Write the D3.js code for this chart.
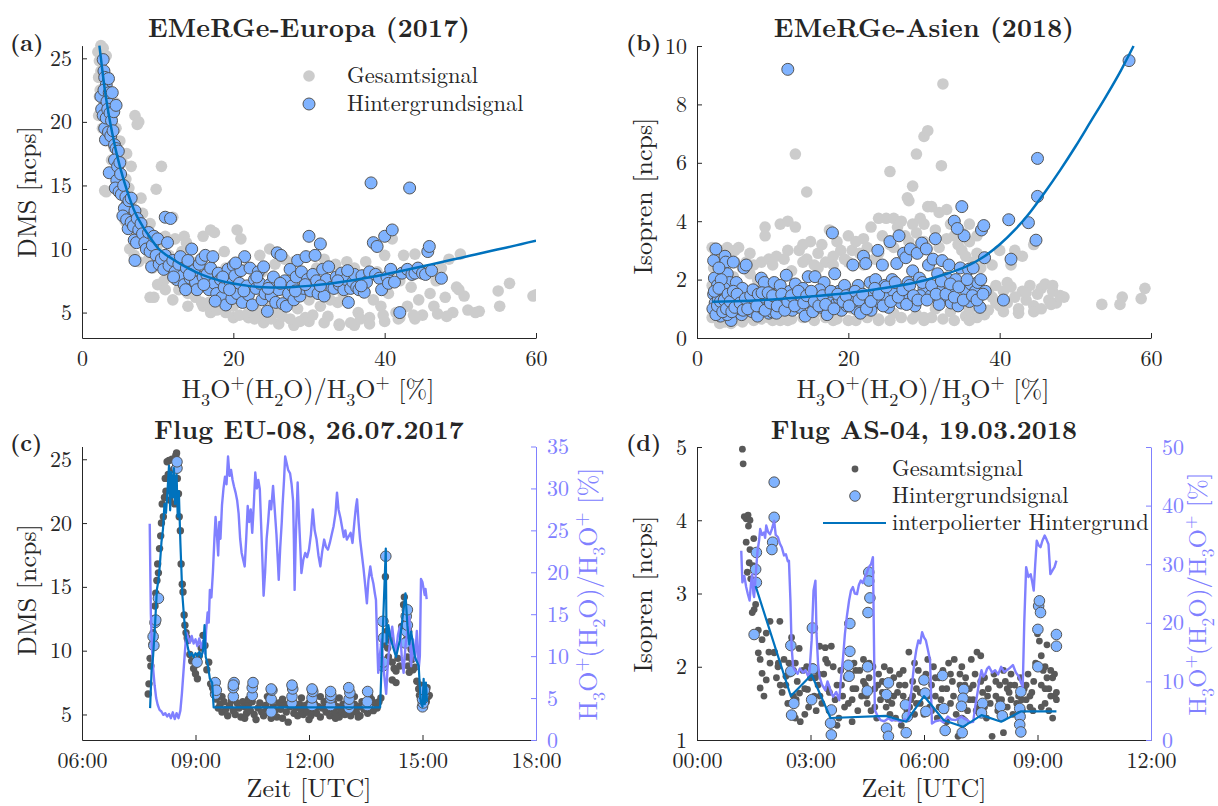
<!DOCTYPE html>
<html>
<head>
<meta charset="utf-8">
<script src="https://cdn.jsdelivr.net/npm/d3@7"></script>
<style>
  body { margin: 0; background: #fff; }
  text { font-family: "Latin Modern Roman", "CMU Serif", "Liberation Serif", serif; fill: #262626; white-space: pre; }
</style>
</head>
<body>
<script>
// ---------- Daten ----------
// (a) EMeRGe-Europa: [H3O+(H2O)/H3O+ %, DMS ncps]
const europeTotal = [
  [2.1,25.5],[2.3,24.8],[2.2,23.5],[2.5,26],[2.8,25.8],[2.4,22.5],[2.6,21],[2.2,20.5],[2.9,23.8],[2.7,19.5],[3.0,22],[2.5,24],[3.2,25.2],[2.3,22],[2.9,21.5],
  [3.3,20.5],[3.5,23.5],[3.8,21.8],[3.2,18.5],[3.6,19],[4.0,20.5],[4.2,18],[4.5,19.5],[4.8,17.5],[3.0,14.6],[3.2,14.5],[4.5,16],[4.9,15.5],[3.9,17],[4.4,21.5],[5.0,18.5],
  [5.3,16.8],[5.5,14.5],[5.8,15.5],[6.0,13],[6.2,14.8],[6.5,16.5],[7.0,20.5],[7.5,20],[7.3,19.8],[5.7,12.2],[6.8,12.5],[7.2,11.5],[7.8,14],[6.3,10],[6.9,9.5],[8.0,12.8],[7.6,11],[5.9,17.5],[6.6,13.8],
  [8.3,11.8],[8.6,10.5],[9.0,12],[9.3,8.5],[9.5,6.2],[9.8,14.7],[10.2,9],[10.5,16.5],[11.0,11],[11.3,8],[11.8,7.8],[12.0,12.5],[8.8,9.2],[9.9,10.2],[10.8,7.5],[11.5,9.5],[12.3,10.8],[12.5,8.5],
  [7.5,9],[9,6.2],[10,7.2],[11,6.8],[12,6],[14,5.5],[16,5.5],[17,5],[19,5],[20,4.6],[22,4.6],[24,4.2],[26,4.1],[28,4.0],[30,4.3],[32,4.2],[34,4.1],[36,4.0],[38,4.1],[40,4.3],[42,4.6],[44,4.5],
  [13,7.5],[13.5,11],[14,6.5],[14.5,9],[15,6.2],[15.5,8],[13.8,10.5],[14.8,7],[15.8,5.8],[12.8,6.8],[13.2,9.8],[16,11],
  [16.5,7],[17,11.5],[17.5,11.3],[18,6],[18.5,5.5],[19,8.5],[19.5,7],[20,5.5],[20.5,11.5],[21,10.8],[21.5,6],[16.8,5.8],[18.8,9.8],[19.8,6.5],[20.8,4.8],[21.8,8.5],[17.8,5.2],[22,5],
  [22.5,7.3],[23,5.2],[23.5,9.5],[24,4.8],[24.5,6],[25,4.5],[25.5,8.8],[26,5],[26.5,4.7],[27,6.5],[27.5,4.5],[28,9],[28.5,5.3],[29,7.5],[29.5,4.6],[30,6],[22.8,4.5],[24.8,10],[26.8,9.2],[28.8,4.3],[23.8,8.2],[27.8,7.8],
  [30.5,4.8],[31,8.5],[31.5,5.5],[32,9.2],[32.5,4.7],[33,7],[33.5,8.8],[34,4],[34.5,6.5],[35,9],[35.5,4.2],[36,8.5],[36.5,5],[37,7.5],[37.5,9],[38,4.6],[38.5,6],[39,8.2],[39.5,5.5],[40,9.5],[30.8,7],[33.8,5.8],[36.8,4.5],[39.8,4.8],[34.8,8],[32.8,6],
  [40.5,6.5],[41,10.8],[41.5,5],[42,7.5],[42.5,9.5],[43,5.5],[43.5,7],[44,9.6],[44.5,6],[45,4.8],[45.5,8],[46,6.5],[46.5,5.5],[47,4.9],[47.5,8.5],[48,6.2],[48.5,9.2],[49,5],[49.5,7],[50,9.6],[43.8,4.8],[46.8,7.5],[41.8,4.5],[49.8,6.8],[48.2,4.7],
  [50.5,6.3],[51,5.2],[52,5],[52.5,5.1],[55,6.7],[55.2,5.5],[56.5,7.3],[59.6,6.3],[60,6.4]
];
const europeBg = [
  [2.8,24.9],[2.9,24],[3.0,23.5],[3.2,22.9],[3.5,23.4],[2.5,22],[2.6,21],[2.9,22.5],[3.3,21.6],[3.6,22.3],[4.0,22.3],[2.8,20.5],[3.0,19.5],[3.2,20.3],[3.4,21],[3.7,20.7],[3.1,18.6],[3.5,19.2],[3.9,20.1],[4.2,20.8],[4.5,21.3],[3.8,18.9],[4.1,19.3],[3.6,16],
  [4.3,18.2],[4.5,17.9],[4.8,17.7],[4.3,17],[4.7,16.5],[5.0,16.8],[4.6,15.4],[5.1,15.9],[4.4,14.8],[4.9,14.5],[5.2,14.3],[5.5,15],[5.8,14.1],[6.0,13.5],[5.6,13.2],[5.4,12.6],[5.9,12.3],[6.2,13.8],[6.5,14],[6.1,11.6],
  [6.5,12.1],[6.8,11.8],[7.0,13],[7.3,12.4],[7.5,11.5],[7.7,10.9],[6.9,10.7],[7.2,10.5],[7.8,12],[8.0,11.2],[8.3,10.5],[8.5,10],[8.8,11.3],[9.0,9.8],[9.3,10.3],[9.5,11],[7.0,9.1],[9.2,8.6],[9.8,9.5],[10,10.8],
  [10.2,8.8],[10.5,9.2],[10.8,8.4],[11,9.5],[11.3,10.5],[11.5,8.7],[11,12.5],[11.7,12.4],[12,9.1],[12.3,8.2],[12.5,7.6],[12.8,8.8],[13,9.4],[13.3,7.9],[13.5,7.2],[13.8,8.5],[14,9.1],[14.3,7.7],[14.5,10],[14.8,8.3],[15,7.4],[15.2,6.8],[15.5,8.8],[13.7,6.8],[12.1,7.8],
  [15.8,9.2],[16,7.8],[16.3,9.5],[16.5,8],[16.8,6.8],[17,8.5],[17.3,9.4],[17.5,7.3],[17.8,6.5],[18,8.1],[18.3,7.6],[18.5,6.2],[18.8,7],[19,5.6],[19.3,8.4],[19.6,7.4],[19.8,6.1],[20,8.7],[20.2,7.9],[20.5,6.5],[20.8,7.3],[21,8.3],[21.2,5.8],[21.5,9.4],[21.8,7.1],[22,6.4],[22.2,8.5],[20.3,8.9],[17.6,5.9],
  [22.5,5.6],[22.8,7.6],[23,6.9],[23.3,8.2],[23.5,7.3],[23.8,6],[24,8.6],[24.2,6.5],[24.5,5.1],[24.8,7.2],[25,6.3],[25.3,7.8],[25.6,5.8],[25.8,9.7],[26,6.8],[26.3,9.5],[26.5,5.7],[26.8,7.5],[27,5.5],[27.3,6.5],[27.5,8.4],[27.8,7.1],[28,6],[28.3,7.8],[28.5,9.1],[28.8,6.3],[29,8.2],[29.3,6.9],[29.6,9.4],[29.8,7.6],[30,11],[30.2,6.7],[30.5,8],
  [30.8,9.5],[31,7.5],[31.2,6.5],[31.5,10.4],[31.8,8.4],[32,6.3],[32.3,7.6],[32.6,8.6],[33,7],[33.3,6.9],[33.6,7.8],[34,7.2],[34.3,8.1],[34.6,6.8],[34.9,7.6],[35.2,5.8],[35.5,6.9],[35.8,7.4],[36,8],[36.3,7],[36.6,6.8],[37,7.9],[37.3,6.6],[37.6,7.4],[38,8.2],[38.2,15.2],[38.5,10.5],[38.8,8],[39,10.2],[39.3,7.7],[39.6,6.8],[40,11],[40.3,7.8],
  [40.5,7.3],[40.8,8.4],[41,11.5],[41.3,7.4],[42,5],[42.3,8.1],[43,8.4],[43.3,14.8],[43.6,8],[44,8.1],[44.4,8.5],[45,8.1],[45.4,8],[45.7,9.8],[45.9,10.2],[46.2,8.3],[47.5,7.7],
  [14.2,8.0],[16.1,7.2],[18.6,7.8],[19.5,6.8],[21.4,6.7],[23.1,7.8],[24.6,6.9],[26.2,7.3],[28.2,6.7],[29.5,7.2],[31.5,7.1],[33.8,7.5],[36.9,7.1],[35.1,8.3]
];
const europeFit = [
  [2.3,26],[2.6,24.5],[3,22.6],[3.5,20.7],[4,19.1],[4.5,17.7],[5,16.5],[6,14.5],[7,12.9],[8,11.8],[9,10.9],[10,10.1],[12,9.2],[14,8.5],[16,7.95],[18,7.55],
  [20,7.28],[22,7.1],[24,7.0],[26,6.98],[28,7.02],[30,7.1],[32,7.22],[34,7.38],[36,7.57],[38,7.78],[40,8.0],[42,8.25],[44,8.5],[46,8.77],[48,9.04],[50,9.3],[52,9.57],[54,9.84],[56,10.1],[58,10.38],[60,10.66]
];

// (b) EMeRGe-Asien: [H3O+(H2O)/H3O+ %, Isopren ncps]
const asiaTotal = [
  [2,3.1],[2.5,2.9],[3,3.0],[3.5,2.8],[4,3.1],[4.5,2.7],[5,2.6],[2.2,2.4],[2.8,2.2],[3.3,2.5],[3.8,2.3],[4.3,2.0],[4.8,2.1],[2,1.8],[2.5,1.5],[3,1.2],[3.5,1.0],[4,0.7],[4.5,0.5],[5,0.6],[2.3,0.9],[3.7,0.55],[2,0.7],
  [5.5,3.1],[6,2.4],[6.5,2.6],[7,2.2],[7.5,2.5],[8,2.0],[8.5,2.6],[9,3.8],[9,3.5],[9.5,2.7],[10,2.5],[10.5,2.8],[5.5,0.9],[6.5,0.7],[7.5,0.6],[8.5,0.65],[9.5,0.7],[10,0.6],[6,1.3],[7,1.1],[8,1.5],[9,1.2],[10,1.8],
  [11,3.9],[11.5,2.7],[12,4.0],[12.5,2.3],[13,3.8],[13,6.3],[13.5,3],[14,3.2],[14.5,5.0],[14.5,2.7],[15,3.3],[15.5,2.5],[16,2.9],[16.5,3.2],[17,2.6],[17.5,3.7],[18,2.8],[18.5,3.3],[19,3.0],[19.5,2.7],[20,3.5],
  [11,0.6],[12.5,0.65],[14,0.7],[15.5,0.6],[17,0.7],[18.5,0.65],[20,0.6],[11.5,1.1],[13.5,1.0],[16,0.9],[19,0.9],
  [20.5,3.0],[21,3.3],[21.5,2.9],[22,3.4],[22.5,3.1],[23,3.8],[23.5,2.7],[24,4.1],[24.5,3.5],[25,4.1],[25.5,5.7],[25.5,3.2],[26,4.1],[26.5,3.8],[27,4.0],[27.5,3.5],[27.8,4.8],[28,4.7],[28.5,5.2],[28.5,3.9],[29,6.3],[29,3.6],[29.5,4.1],[30,6.9],[30.5,7.1],[30,3.9],
  [21,0.6],[22.5,0.7],[24,0.65],[25.5,0.6],[27,0.7],[28.5,0.65],[30,0.7],[20.5,1.0],[23,0.9],[26,0.85],[29,0.8],
  [30.5,4.5],[31,4.5],[31.5,3.7],[32,4.3],[32.3,5.9],[32.5,8.7],[33,4.4],[33.5,3.9],[34,3.5],[34.5,3.2],[35,3.0],[35.5,2.8],[36,3.3],[36.5,2.6],[37,2.9],[37.5,2.4],[38,2.7],
  [31,0.7],[32.5,0.65],[34,0.6],[35.5,0.75],[37,0.7],[38,0.8],[31.5,1.0],[33.5,0.9],[36,0.95],
  [38.5,1.6],[39,1.4],[39.5,1.8],[40,1.1],[40.5,1.6],[41,1.2],[41.5,1.75],[42,1.4],[42.5,1.0],[43,1.6],[43.5,1.3],[44,1.8],[44.5,1.1],[45,1.5],[45.5,1.7],[46,1.85],[46.5,1.3],[47,1.6],[47.5,1.2],[48,1.45],[48.5,1.4],[46.8,1.15],
  [41.5,2.5],[42,3.0],[43,2.8],[44.5,3.2],[40,3.0],[39,2.5],[38.5,0.95],[40.5,0.9],[42.5,0.85],[44.5,0.9],[45.5,1.0],[39.5,1.2],[43.5,1.55],[41,1.9],[47,1.8],
  [5,3.0],[7,2.9],[12,3.0],[14,2.6],[16,2.4],[18,2.5],[20,2.6],[22,2.5],[24,2.9],[26,3.1],[28,3.3],[30,3.3],[32,3.1],[33,3.4],[35,3.6],[36,3.9],[37,3.5],
  [3,0.5],[6,0.55],[12,0.6],[18,0.6],[24,0.6],[30,0.6],[36,0.6],
  [53.5,1.15],[55.9,1.15],[56.2,1.4],[58.7,1.35],[59.2,1.7]
];
const asiaBg = [
  [2.2,2.65],[2.5,3.05],[2.3,2.05],[2.7,1.8],[2.2,1.5],[2.4,1.2],[2.6,0.9],[3,1.4],[3.3,1.1],[3.1,0.75],[3.5,2.3],[3.7,2.8],[3.8,2.6],[4.0,2.2],[4.3,1.9],[4.5,1.5],[4.2,1.0],[4.5,0.6],[4.0,0.8],[3.6,1.7],[2.8,1.3],[4.8,2.6],[4.9,1.2],[3.2,2.0],[2.9,2.4],
  [5.2,1.9],[5.5,1.35],[5.9,0.8],[6.2,2.4],[6.5,2.5],[6.8,1.5],[7,1.1],[7.3,0.9],[7.7,1.6],[8,0.75],[8.3,1.3],[8.5,2.05],[8.9,1.9],[9.2,1.2],[9.5,0.85],[9.8,1.5],[10.2,1.9],[10.3,1.1],[5.6,1.0],[6.0,1.7],[7.5,1.3],[8.7,1.0],[9.9,0.9],
  [10.8,1.4],[11,1.8],[11.5,1.2],[11.8,2.15],[12,9.2],[12.3,1.6],[12.6,0.95],[13,1.85],[13.3,1.3],[13.6,1.05],[14,1.7],[14.3,0.75],[14.7,2.1],[15,1.2],[15.3,0.9],[15.6,2.1],[16,1.4],[16.4,1.05],[16.8,1.9],[17.2,0.8],[17.5,1.3],[17.9,3.6],[18.2,2.2],[18.5,1.2],[18.8,1.6],[19.1,0.95],[19.5,1.8],[19.8,1.1],[10.5,0.85],[13.8,1.4],[16.2,1.65],[18.8,1.35],
  [20.3,1.5],[20.6,2.5],[21,1.0],[21.3,1.8],[21.6,0.85],[22,2.8],[22.3,2.55],[22.6,1.2],[22.9,1.9],[23.2,1.5],[23.6,2.0],[23.9,3.0],[24.2,1.2],[24.5,2.5],[24.8,1.8],[25.1,1.4],[25.5,3.3],[25.8,2.0],[26,1.6],[26.4,2.55],[26.7,3.5],[27,1.2],[27.3,2.9],[27.6,2.75],[27.9,1.9],[28.2,3.05],[28.5,2.3],[28.8,1.1],[29.1,2.9],[29.4,2.05],[29.7,3.25],[30,1.7],[30.3,3.05],[20.7,1.25],[23,0.95],[25.3,1.05],[27.5,1.5],[29.5,1.45],
  [30.6,2.5],[30.9,1.45],[31.2,2.7],[31.5,3.4],[31.8,2.2],[32.1,1.6],[32.4,2.65],[32.7,1.35],[33,2.05],[33.3,2.5],[33.6,1.2],[33.9,1.7],[34.2,2.0],[34.5,1.1],[34.8,2.4],[35,4.5],[35.3,3.5],[35.6,1.6],[35.9,2.35],[36.2,1.85],[36.5,2.4],[36.8,1.6],[37.1,1.9],[37.4,1.05],[37.6,3.7],[37.9,3.85],[38,2.75],[38.1,1.6],[34,4.0],[34.4,3.75],[32,1.15],[36,1.25],
  [2.1,1.0],[2.3,1.6],[2.5,0.8],[2.7,1.1],[2.9,1.7],[3.1,1.25],[3.4,0.9],[3.6,1.3],[3.9,1.0],[4.1,1.5],[4.4,1.25],[4.6,0.9],[4.8,1.6],[5.0,1.05],[5.3,1.5],[5.7,1.2],[6.1,0.95],[6.4,1.35],[6.7,1.0],[7.1,1.45],[7.4,1.65],[7.9,1.1],[8.1,1.5],[8.6,1.55],[9.0,0.95],[9.4,1.55],[9.7,1.2],[10.0,1.45],
  [10.6,1.1],[11.2,1.5],[11.6,0.95],[12.0,1.25],[12.5,1.45],[12.9,1.1],[13.4,1.6],[14.1,1.2],[14.5,1.45],[15.1,1.6],[15.5,1.25],[16.1,1.1],[16.6,1.45],[17.0,1.15],[17.7,1.6],[18.1,1.0],[18.6,1.5],[19.3,1.25],[19.7,1.45],
  [20.1,1.1],[20.9,1.6],[21.4,1.3],[21.9,1.5],[22.4,1.0],[23.0,1.25],[23.5,1.7],[24.0,1.5],[24.6,1.1],[25.0,1.75],[25.6,1.25],[26.2,1.9],[26.6,1.4],[27.2,1.65],[27.7,1.15],[28.1,1.8],[28.6,1.45],[29.2,1.3],[29.8,1.9],
  [30.4,1.3],[31.0,1.8],[31.6,1.5],[32.3,1.95],[32.9,1.5],[33.5,1.85],[34.0,1.4],[34.6,1.75],[35.2,1.3],[35.7,2.0],[36.4,1.45],[37.0,1.3],[37.5,2.0],[37.8,1.5],
  [40.5,1.3],[41.2,4.05],[41.5,2.7],[43.8,3.95],[44.8,3.35],[45,4.85],[45,6.15],[57.1,9.5]
];
const asiaFit = [
  [2,1.24],[5,1.26],[10,1.32],[15,1.42],[20,1.54],[25,1.72],[30,1.97],[33,2.2],[36,2.5],[38,2.8],[40,3.2],[42,3.7],[44,4.3],[46,5.0],[48,5.75],[50,6.55],[52,7.4],[54,8.25],[56,9.15],[57.7,10]
];

// (c) Flug EU-08: [Zeit h UTC, Wert]
const eu08Total = [
  [7.75,6.6],[7.77,7.4],[7.8,9.4],[7.82,8.8],[7.85,10.5],[7.88,11.4],[7.9,12.5],[7.93,13.5],[7.95,14.5],[7.98,15.5],[8.0,16.8],[8.02,16.1],[8.05,18],[8.08,19],[8.1,20],[8.12,21.5],[8.15,20.5],[8.18,22],[8.2,23.5],[8.22,22.5],[8.25,24.8],[8.28,23.8],[8.3,24.9],[8.32,21.8],[8.35,23],[8.38,25],[8.4,22.5],[8.42,24.2],[8.45,21.5],[8.48,25.3],[8.5,25.5],[8.52,23.5],[8.55,22.3],[8.57,20.5],[8.6,19.4],[8.62,16.8],[8.65,15.2],[8.67,14.6],[8.7,12.8],[8.72,12],[8.75,11.4],[8.78,11],[8.8,10.8],[8.85,9.7],[8.9,9.2],[8.95,8.6],[9.0,8.2],[9.05,7.8],[9.1,9.6],[9.15,10.2],[9.2,11.2],[9.25,10.4],[9.3,8.5],[9.35,9.1],[9.4,7.4],[9.45,7.1],[9.5,6.8],
  [9.55,6.2],[9.6,5.5],[9.65,5.8],[9.7,5.2],[9.75,6.0],[9.8,5.4],[9.85,4.9],[9.9,5.7],[9.95,6.1],[10.0,5.3],[10.05,5.0],[10.1,5.9],[10.15,5.5],[10.2,4.8],[10.25,6.0],[10.3,5.6],[10.35,5.1],[10.4,5.8],[10.45,5.3],[10.5,6.0],[10.55,5.0],[10.6,4.6],[10.65,5.5],[10.7,5.9],[10.75,5.2],[10.8,4.9],[10.85,5.7],[10.9,5.4],[10.95,6.1],[11.0,5.0],[11.05,5.6],[11.1,5.3],[11.15,4.8],[11.2,5.9],[11.25,5.4],[11.3,4.7],[11.35,5.8],[11.4,5.2],[11.45,4.4],[11.5,5.6],[11.55,6.0],[11.6,5.1],[11.65,5.5],[11.7,4.9],[11.75,5.8],[11.8,5.3],[11.85,5.0],[11.9,5.7],[11.95,5.2],[12.0,5.9],
  [12.05,4.9],[12.1,5.4],[12.15,5.8],[12.2,5.1],[12.25,5.6],[12.3,4.8],[12.35,5.5],[12.4,6.0],[12.45,5.2],[12.5,5.7],[12.55,4.9],[12.6,5.4],[12.65,5.9],[12.7,5.1],[12.75,5.6],[12.8,4.8],[12.85,5.3],[12.9,5.8],[12.95,5.0],[13.0,5.5],[13.05,6.1],[13.1,4.9],[13.15,5.4],[13.2,5.8],[13.25,5.2],[13.3,5.6],[13.35,4.9],[13.4,6.0],[13.45,5.4],[13.5,5.8],[13.55,5.1],[13.6,5.7],[13.65,6.2],[13.7,5.3],[13.75,5.9],[13.8,5.5],[13.85,6.0],
  [9.7,6.4],[10.0,6.4],[10.4,6.2],[10.9,6.4],[11.3,6.2],[11.8,6.3],[12.3,6.4],[12.8,6.3],[13.2,6.4],[13.6,6.5],[10.3,4.7],[11.0,4.7],[12.0,4.6],[12.7,4.7],[13.3,4.8],
  [13.9,6.3],[13.92,8.8],[13.95,9.2],[13.97,10.5],[14.0,12.3],[14.02,15.8],[14.05,11.5],[14.08,10.2],[14.1,9.5],[14.12,11],[14.15,10.8],[14.2,9.1],[14.25,8.6],[14.3,8.4],[14.35,9.4],[14.4,8.8],[14.45,11.9],[14.5,13.6],[14.52,14.2],[14.55,12.5],[14.58,10.9],[14.6,9.5],[14.62,8.8],[14.65,8.3],[14.7,10.1],[14.72,9.3],[14.75,8.5],[14.8,8.7],[14.85,7.6],[14.9,7.0],[14.92,6.5],[14.95,7.3],[14.98,6.0],[15.0,6.8],[15.03,6.2],[15.05,5.6],[15.08,6.6],[15.1,6.0],[15.12,7.1],[15.15,6.4],[15.18,6.5],[14.2,7.7],[14.3,7.5]
];
const eu08Bg = [
  [7.9,10.4],[7.88,11.1],[7.93,12.2],[7.95,12.4],[8.02,14.1],
  [8.51,24.3],[8.51,24.8],[9.04,9.1],
  [9.52,7.5],[9.53,6.6],[9.55,6.9],
  [10.0,6.4],[10.0,7.1],[10.02,7.5],[10.0,7.3],
  [10.5,6.5],[10.5,7.1],[10.52,7.5],
  [11.0,5.2],[11.0,6.2],[11.02,6.9],[11.0,7.0],
  [11.55,5.9],[11.55,6.4],[11.57,7.0],[11.55,7.3],
  [12.08,5.7],[12.08,6.3],[12.1,6.8],[12.08,7.0],
  [12.57,5.7],[12.57,6.3],[12.58,6.5],[12.57,6.8],
  [13.06,5.5],[13.06,5.8],[13.06,6.2],[13.08,6.7],[13.05,7.1],
  [13.54,5.7],[13.54,6.0],[13.55,6.8],
  [13.95,8.8],[13.96,9.1],[13.97,11.0],[13.95,12.3],[14.03,17.4],
  [14.55,10.6],[14.58,11.5],[14.6,12.0],[14.57,12.7],[14.6,13.2],
  [15.0,5.6],[15.02,5.9],[15.0,6.2],[15.03,6.5],[15.05,6.9]
];
const eu08Interp = [
  [7.8,5.5],[7.84,8.5],[7.88,9.6],[7.93,12],[7.98,14.8],[8.02,15.5],[8.06,16.8],[8.1,18.5],[8.14,19.5],[8.18,21.5],[8.22,20.8],[8.26,22.5],[8.3,24.5],[8.33,21],[8.36,24],[8.4,22],[8.43,24.3],[8.46,21.5],[8.5,23.8],[8.53,20.5],[8.56,22.5],[8.6,18.5],[8.65,14.5],[8.7,12.5],[8.75,11],[8.8,10.2],[8.85,9.6],[8.9,9.8],[8.95,9.5],[9.0,9.8],[9.05,9.6],[9.1,9.9],[9.15,9.5],[9.2,10],[9.24,12],[9.27,9.5],[9.32,9],[9.38,7.8],[9.44,7.5],[9.48,5.55],
  [13.88,5.55],[13.92,9],[13.96,12.3],[14.03,18],[14.05,10.5],[14.1,12],[14.15,11],[14.2,10.5],[14.3,9.5],[14.4,10.8],[14.45,12],[14.55,14.5],[14.6,12],[14.65,10.5],[14.7,11.5],[14.8,9.5],[14.9,8.8],[14.95,6],[15.0,5.6],[15.03,7.8],[15.06,5.8],[15.09,7.5],[15.12,6]
];
const eu08Water = [
  [7.79,25.8],[7.8,22],[7.82,15],[7.85,11],[7.88,8.5],[7.92,6.5],[7.96,5],[8.0,4.2],[8.05,3.6],[8.1,3.4],[8.15,3.0],[8.2,3.2],[8.25,2.8],[8.3,3.1],[8.35,2.6],[8.4,3.3],[8.45,2.5],[8.5,3.2],[8.55,2.6],[8.6,3.5],[8.64,5.5],[8.68,8],[8.72,10.5],[8.76,12.8],[8.8,12.3],[8.85,11.6],[8.9,12.4],[8.95,11.5],[9.0,12],[9.05,11.2],[9.1,12.1],[9.15,11],[9.2,11.8],[9.25,10.3],[9.28,13],[9.32,15.2],[9.35,14],[9.38,17.9],[9.42,17],[9.46,20],[9.5,24],[9.53,26.6],[9.56,25],[9.6,22],[9.63,26],[9.66,24],[9.7,28],[9.74,30],[9.78,31.4],[9.82,30.5],[9.86,33.8],[9.9,31.5],[9.94,32.2],[9.98,31],
  [10.02,30.2],[10.06,29.5],[10.1,28.6],[10.14,27],[10.18,24],[10.22,22.3],[10.26,21.5],[10.3,20.7],[10.34,24],[10.38,27.9],[10.42,26],[10.46,27.5],[10.5,24.7],[10.54,28],[10.58,31.9],[10.62,30],[10.66,31],[10.7,29.9],[10.74,25],[10.78,20],[10.8,17.2],[10.84,20],[10.88,24],[10.92,26],[10.96,28.5],[11.0,27.5],[11.05,30.3],[11.1,27.1],[11.14,24.5],[11.18,21],[11.2,19.1],[11.24,23],[11.28,26],[11.3,27.9],[11.34,31],[11.37,33.8],[11.41,33],[11.45,32.2],[11.5,31.8],[11.54,30.5],[11.58,28.5],[11.6,24],[11.62,17.9],[11.65,24],[11.7,30.7],[11.74,26],[11.78,22],[11.8,19.9],[11.85,21.5],[11.9,22.3],[11.95,21.8],
  [12.0,22.7],[12.05,24.5],[12.1,27.5],[12.15,25],[12.2,23.9],[12.25,22],[12.3,20.7],[12.35,22.5],[12.4,23.9],[12.45,23],[12.5,22.7],[12.55,23.5],[12.6,24.5],[12.65,25.5],[12.7,27],[12.74,29.5],[12.78,27.5],[12.83,26.5],[12.87,25.5],[12.92,24.2],[12.96,25],[13.0,23.9],[13.05,24.3],[13.1,24.7],[13.15,23.5],[13.2,26],[13.24,27.8],[13.27,28.7],[13.31,26],[13.35,23.9],[13.4,22],[13.44,20.5],[13.48,18.7],[13.53,16.3],[13.57,19],[13.62,20.7],[13.66,19.5],[13.7,18.7],[13.74,17.5],[13.77,16.7],[13.8,12],[13.83,8.0],[13.87,10],[13.92,12],[13.96,9],
  [14.0,7.2],[14.04,5.5],[14.07,8],[14.1,10],[14.15,12],[14.2,13.5],[14.25,11.5],[14.3,10.4],[14.35,12.5],[14.4,13.5],[14.45,10],[14.5,8],[14.55,11.2],[14.6,13],[14.65,14.7],[14.68,11],[14.7,8.8],[14.75,12],[14.8,9.5],[14.85,13],[14.9,8.5],[14.93,10],[14.96,19.2],[15.0,18.8],[15.03,18],[15.06,17.3],[15.08,18],[15.11,16.8]
];

// (d) Flug AS-04: [Zeit h UTC, Wert]
const as04Total = [
  [1.2,4.97],[1.22,4.77],[1.25,4.05],[1.3,4.02],[1.35,4.07],[1.4,4.0],[1.3,3.7],[1.36,3.92],[1.4,3.6],[1.5,3.75],[1.38,3.42],[1.48,3.38],[1.55,3.3],[1.33,3.29],[1.42,3.2],[1.51,2.78],[1.46,2.74],[1.55,2.85],[1.62,2.5],[1.72,2.37],[1.83,2.46],[1.93,2.62],[2.19,2.62],[1.62,2.19],[1.67,2.1],[1.72,1.91],[1.83,1.82],[1.67,1.71],[1.77,1.6],[2.04,2.19],[1.93,2.05],[2.14,2.0],[1.9,2.2],
  [2.05,2.2],[2.1,1.85],[2.15,2.05],[2.2,1.75],[2.3,2.1],[2.43,2.05],[2.35,1.87],[2.45,1.9],[2.5,2.4],[2.55,1.6],[2.6,2.05],[2.65,1.8],[2.7,2.25],[2.71,1.64],[2.73,1.25],[2.8,1.95],[2.85,1.7],[2.92,1.69],[2.95,1.45],[3.0,1.85],[2.6,1.3],[2.4,1.5],
  [3.05,2.0],[3.1,1.6],[3.13,1.85],[3.24,2.28],[3.2,1.75],[3.3,1.5],[3.35,1.9],[3.39,2.26],[3.45,2.05],[3.5,1.4],[3.55,2.28],[3.6,2.0],[3.65,1.55],[3.7,1.75],[3.75,1.3],[3.8,1.95],[3.85,1.6],[3.9,1.45],[3.95,1.85],[4.0,1.5],
  [4.05,1.9],[4.1,1.55],[4.15,2.05],[4.2,1.7],[4.25,1.4],[4.3,1.95],[4.35,1.6],[4.4,2.1],[4.45,1.75],[4.5,1.5],[4.55,1.85],[4.6,1.4],[4.65,2.0],[4.7,1.7],[4.75,1.3],[4.8,1.9],[4.85,1.55],[4.9,1.8],[4.95,2.0],[5.0,1.45],
  [5.05,1.75],[5.1,1.95],[5.15,1.5],[5.2,1.85],[5.25,1.3],[5.3,1.65],[5.35,1.9],[5.4,1.2],[5.45,1.6],[5.5,1.75],[5.55,1.4],[5.6,2.2],[5.65,1.55],[5.7,1.8],[5.75,1.35],[5.8,1.7],[5.85,1.95],[5.9,1.5],[5.95,1.8],[6.0,1.35],
  [6.05,1.9],[6.1,2.1],[6.15,1.45],[6.2,1.75],[6.25,2.0],[6.3,1.6],[6.35,1.3],[6.4,1.85],[6.45,1.55],[6.5,1.95],[6.55,1.4],[6.6,1.7],[6.65,2.05],[6.7,1.5],[6.75,1.8],[6.8,2.1],[6.85,1.35],[6.9,1.05],[6.95,1.75],[7.0,2.0],
  [7.05,1.6],[7.1,1.85],[7.15,1.4],[7.2,1.7],[7.25,2.1],[7.3,1.55],[7.35,1.9],[7.4,2.2],[7.45,1.45],[7.5,2.15],[7.55,1.65],[7.6,1.85],[7.65,1.3],[7.7,1.7],[7.75,1.5],[7.8,1.05],[7.85,1.9],[7.9,1.6],[7.95,1.4],[8.0,1.75],
  [8.05,1.55],[8.1,1.1],[8.15,1.8],[8.2,1.45],[8.25,1.65],[8.3,1.9],[8.35,1.35],[8.4,1.75],[8.45,1.5],[8.5,1.6],[8.55,1.85],[8.6,1.4],[8.65,1.7],[8.7,1.55],[8.75,1.9],[8.8,1.45],[8.85,1.65],[8.9,1.8],[8.95,2.05],[9.0,2.45],[9.05,2.35],[9.1,2.15],[9.15,1.95],[9.2,2.0],[9.25,1.85],[9.3,1.7],[9.35,1.95],[9.4,1.85],[9.45,1.6],[9.5,1.55],[9.4,1.3],[9.2,1.5],[9.35,1.6],[9.1,1.75],[9.5,1.65],
  [2.25,1.65],[2.55,1.95],[2.85,1.35],[3.15,1.4],[3.45,1.7],[3.7,1.2],[4.1,1.25],[4.4,1.8],[4.7,1.45],[5.1,1.35],[5.45,1.95],[5.8,1.5],[6.1,1.6],[6.4,1.45],[6.7,1.9],[7.0,1.3],[7.3,1.75],[7.6,1.45],[7.9,1.8],[8.2,1.7],[8.5,1.3],[8.8,1.6],[9.1,1.45],[9.45,1.9],
  [3.25,1.6],[4.2,1.95],[5.2,1.6],[6.3,1.85],[7.2,1.55],[8.3,1.55],[9.3,1.4],[4.9,1.65],[5.7,1.6],[6.6,1.25],[7.5,1.8],[8.7,1.75],
  [2.35,1.75],[2.62,1.55],[2.9,2.0],[3.22,1.9],[3.5,1.65],[3.82,1.75],[4.12,1.7],[4.48,1.6],[4.78,1.75],[5.05,1.55],[5.35,1.75],[5.62,1.45],[5.9,1.65],[6.2,1.4],[6.48,1.7],[6.78,1.6],[7.08,1.75],[7.38,1.4],[7.68,1.6],[7.98,1.55],[8.28,1.75],[8.58,1.55],[8.88,1.4],[9.2,1.7],
  [3.4,2.1],[4.55,2.05],[5.75,2.05],[6.95,1.9],[8.1,1.95],[9.25,2.3]
];
const as04Bg = [
  [1.51,2.44],[1.55,3.33],[1.57,3.15],[1.57,3.56],[2.04,4.52],[2.04,4.04],[2.0,3.7],[1.98,3.6],
  [2.48,2.29],[2.48,1.94],[2.56,1.5],[2.5,1.34],[3.05,2.53],[3.03,1.55],[3.06,1.97],[3.55,1.41],[3.53,1.23],[3.55,1.07],
  [4.04,2.59],[4.04,2.21],[4.0,2.02],[4.02,1.87],[4.54,3.29],[4.54,3.17],[4.57,2.94],[4.52,2.74],[4.51,2.0],[4.5,1.67],
  [5.06,1.78],[5.01,1.62],[5.01,1.16],[5.06,1.05],[5.51,1.48],[5.56,1.32],[5.53,1.1],[6.0,1.82],[6.03,1.64],[6.05,1.39],
  [6.49,1.88],[6.52,1.43],[6.56,1.13],[7.05,1.69],[7.03,1.57],[6.99,1.46],[7.03,1.25],[7.01,1.1],[7.55,1.5],[7.52,1.37],
  [8.02,1.46],[8.07,1.33],[8.56,1.66],[8.53,1.43],[8.54,1.32],[8.53,1.21],[8.56,1.11],
  [9.01,2.0],[9.01,2.51],[9.03,2.83],[9.05,2.9],[9.08,2.74],[9.5,2.44],[9.5,2.28]
];
const as04Interp = [
  [1.55,3.1],[2.48,1.6],[3.03,1.89],[3.53,1.3],[4.98,1.33],[5.53,1.25],[6.0,1.6],[6.52,1.27],[7.03,1.18],[7.52,1.34],[8.04,1.25],[8.56,1.39],[9.5,1.39]
];
const as04Water = [
  [1.17,32.3],[1.2,26.9],[1.25,28],[1.3,26.1],[1.34,25],[1.39,23.8],[1.43,27],[1.46,28.3],[1.49,25],[1.51,24.4],[1.55,28],[1.6,32.3],[1.64,34],[1.67,36],[1.72,35],[1.77,35.4],[1.8,34.5],[1.83,36.6],[1.88,35.5],[1.93,35.1],[1.98,36],[2.04,37.4],[2.08,35],[2.14,34.6],[2.19,33.5],[2.24,32.9],[2.3,31.5],[2.35,31.7],[2.4,30.5],[2.43,30.6],[2.47,23.8],[2.5,16],[2.54,12.5],[2.6,11.8],[2.66,11.3],[2.72,12.2],[2.8,11.5],[2.87,11.9],[2.93,11],[2.97,11.3],[3.03,17],[3.08,25.5],[3.13,27.2],[3.16,18.1],[3.2,13],[3.24,10.8],[3.3,9.5],[3.39,8.5],[3.45,10],[3.5,9.1],[3.55,8],[3.6,7.4],[3.68,8.2],[3.76,6.8],[3.81,10.8],[3.86,14],[3.91,18.1],[3.96,21],[4.02,23.8],[4.07,25.5],[4.12,26.1],[4.17,25],[4.23,24.9],[4.28,26.5],[4.33,27.2],[4.38,26.8],[4.44,27.8],[4.49,28.5],[4.54,29.5],[4.6,30],[4.65,31.2],[4.7,5.1],[4.78,4],[4.85,3.4],[4.95,3.2],[5.06,3.7],[5.15,3.3],[5.25,3.5],[5.38,3.1],[5.48,3.5],[5.58,3.4],[5.66,8],[5.74,13.0],[5.8,15.5],[5.85,17.0],[5.9,16.5],[5.95,18.4],[6.0,17.5],[6.05,17.0],[6.1,15.5],[6.16,13.6],[6.21,2.8],[6.3,3.2],[6.42,3.4],[6.52,3.0],[6.63,4.0],[6.72,3.5],[6.84,3.4],[6.92,3.7],[6.99,4.0],[7.07,3.6],[7.15,3.4],[7.22,3.0],[7.3,3.1],[7.36,6],[7.41,7.9],[7.47,10.5],[7.52,11.9],[7.57,10.8],[7.62,11.3],[7.67,12.2],[7.72,12.5],[7.8,11.5],[7.88,11.9],[7.96,11.2],[8.04,12.5],[8.12,11.6],[8.19,11.9],[8.27,12.3],[8.35,12.8],[8.43,11.5],[8.51,10.8],[8.56,9.8],[8.61,9.1],[8.65,20],[8.7,29.5],[8.76,27.8],[8.82,28.3],[8.86,27],[8.9,25.5],[8.94,30],[8.98,34],[9.03,33.2],[9.08,32.9],[9.13,34],[9.19,34.9],[9.24,34.2],[9.29,33.4],[9.34,28.3],[9.4,29],[9.45,29.5],[9.5,30.6]
];

// Achsenbeschriftungen
const ratioTicks = [0, 20, 40, 60];
const dmsTicks = [5, 10, 15, 20, 25];
const isoTicksAsia = [0, 2, 4, 6, 8, 10];
const isoTicksFlight = [1, 2, 3, 4, 5];
const eu08TimeTicks = [6, 9, 12, 15, 18];
const as04TimeTicks = [0, 3, 6, 9, 12];
const eu08WaterTicks = [0, 5, 10, 15, 20, 25, 30, 35];
const as04WaterTicks = [0, 10, 20, 30, 40, 50];
const ratioLabelParts = [['H',0],['3',-1],['O',0],['+',1],['(H',0],['2',-1],['O)/H',0],['3',-1],['O',0],['+',1],[' [%]',0]];
const legendTop = ['Gesamtsignal', 'Hintergrundsignal'];
const legendFlight = ['Gesamtsignal', 'Hintergrundsignal', 'interpolierter Hintergrund'];

// ---------- Stil ----------
const axisColor = '#262626';
const lightGray = '#cccccc';
const darkGray = '#595959';
const bgFill = '#80b3ff';
const bgStroke = '#555555';
const fitColor = '#0072bd';
const waterColor = '#8080ff';
const tickFont = 22;

const svg = d3.select('body').append('svg').attr('width', 1218).attr('height', 806);
const defs = svg.append('defs');

const hhmm = d => String(d).padStart(2, '0') + ':00';

// Panel mit Skalen und Clip anlegen
function makePanel(id, box, xDomain, yDomain) {
  const x = d3.scaleLinear().domain(xDomain).range([box.left, box.right]);
  const y = d3.scaleLinear().domain(yDomain).range([box.bottom, box.top]);
  defs.append('clipPath').attr('id', 'clip-' + id).append('rect')
    .attr('x', box.left).attr('y', box.top - 8)
    .attr('width', box.right - box.left).attr('height', box.bottom - box.top + 8);
  const g = svg.append('g');
  const plot = g.append('g').attr('clip-path', `url(#clip-${id})`);
  return { g, plot, x, y, box };
}

function styleAxis(sel, color) {
  sel.attr('font-family', null);
  sel.select('.domain').attr('stroke', color).attr('stroke-width', 1);
  sel.selectAll('.tick line').attr('stroke', color);
  sel.selectAll('.tick text').attr('font-size', tickFont).style('fill', color);
}

function drawAxes(p, xTicks, yTicks, xFormat) {
  p.g.append('g').attr('transform', `translate(0,${p.box.bottom})`)
    .call(d3.axisBottom(p.x).tickValues(xTicks).tickFormat(xFormat || d3.format('d'))
      .tickSizeInner(-5).tickSizeOuter(0).tickPadding(12))
    .call(s => styleAxis(s, axisColor));
  p.g.append('g').attr('transform', `translate(${p.box.left},0)`)
    .call(d3.axisLeft(p.y).tickValues(yTicks).tickFormat(d3.format('d'))
      .tickSizeInner(-5).tickSizeOuter(0).tickPadding(10))
    .call(s => styleAxis(s, axisColor));
}

function drawRightAxis(p, yR, ticks) {
  p.g.append('g').attr('transform', `translate(${p.box.right},0)`)
    .call(d3.axisRight(yR).tickValues(ticks).tickFormat(d3.format('d'))
      .tickSizeInner(-5).tickSizeOuter(0).tickPadding(11))
    .call(s => styleAxis(s, waterColor));
}

function ratioLabel(sel, size) {
  let shift = 0;
  ratioLabelParts.forEach(([t, s]) => {
    const target = s === -1 ? size * 0.3 : s === 1 ? -size * 0.4 : 0;
    sel.append('tspan').attr('dy', target - shift).attr('font-size', s ? size * 0.7 : size).text(t);
    shift = target;
  });
}

function title(x, y, txt) {
  svg.append('text').attr('x', x).attr('y', y).attr('text-anchor', 'middle')
    .attr('font-size', 26).attr('font-weight', 'bold').attr('letter-spacing', 0.2).text(txt);
}
function tag(x, y, txt) {
  svg.append('text').attr('x', x).attr('y', y).attr('font-size', 23).attr('font-weight', 'bold').text(txt);
}
function yLabel(x, y, txt) {
  svg.append('text').attr('transform', `translate(${x},${y}) rotate(-90)`)
    .attr('text-anchor', 'middle').attr('font-size', 26).text(txt);
}

function dots(p, data, r, fill, stroke) {
  p.plot.append('g').selectAll('circle').data(data).join('circle')
    .attr('cx', d => p.x(d[0])).attr('cy', d => p.y(d[1])).attr('r', r)
    .attr('fill', fill).attr('stroke', stroke || 'none').attr('stroke-width', stroke ? 1 : 0);
}
function line(p, yScale, data, color, width, curve) {
  p.plot.append('path').datum(data)
    .attr('d', d3.line().x(d => p.x(d[0])).y(d => yScale(d[1])).curve(curve || d3.curveLinear))
    .attr('fill', 'none').attr('stroke', color).attr('stroke-width', width).attr('stroke-linejoin', 'round');
}

// ---------- (a) ----------
const pa = makePanel('a', { left: 82, right: 536, top: 45.6, bottom: 338 }, [0, 60], [3, 26]);
dots(pa, europeTotal, 5.8, lightGray);
dots(pa, europeBg, 6, bgFill, bgStroke);
line(pa, pa.y, europeFit, fitColor, 2.5, d3.curveMonotoneX);
drawAxes(pa, ratioTicks, dmsTicks);
title(309, 37, 'EMeRGe-Europa (2017)');
tag(10, 51, '(a)');
yLabel(36, 192, 'DMS [ncps]');
svg.append('text').attr('x', 308).attr('y', 398).attr('text-anchor', 'middle').call(s => ratioLabel(s, 26));
const legA = svg.append('g');
legendTop.forEach((t, i) => {
  const cy = 76 + i * 28;
  legA.append('circle').attr('cx', 309).attr('cy', cy).attr('r', i ? 6 : 5.8)
    .attr('fill', i ? bgFill : lightGray).attr('stroke', i ? bgStroke : 'none');
  legA.append('text').attr('x', 347).attr('y', cy + 7).attr('font-size', 22.5).text(t);
});

// ---------- (b) ----------
const pb = makePanel('b', { left: 697, right: 1151, top: 46, bottom: 338 }, [0, 60], [0, 10]);
dots(pb, asiaTotal, 5.8, lightGray);
dots(pb, asiaBg, 6, bgFill, bgStroke);
line(pb, pb.y, asiaFit, fitColor, 2.5, d3.curveMonotoneX);
drawAxes(pb, ratioTicks, isoTicksAsia);
title(924, 37, 'EMeRGe-Asien (2018)');
tag(626, 51, '(b)');
yLabel(652, 196, 'Isopren [ncps]');
svg.append('text').attr('x', 923).attr('y', 398).attr('text-anchor', 'middle').call(s => ratioLabel(s, 26));

// ---------- (c) ----------
const pc = makePanel('c', { left: 82, right: 536, top: 446.5, bottom: 740 }, [6, 18], [3, 26]);
const ycR = d3.scaleLinear().domain([0, 35]).range([740, 446.5]);
dots(pc, eu08Total, 3.7, darkGray);
dots(pc, eu08Bg, 5.3, bgFill, bgStroke);
line(pc, ycR, eu08Water, waterColor, 2.4);
line(pc, pc.y, eu08Interp, fitColor, 2.2);
drawAxes(pc, eu08TimeTicks, dmsTicks, hhmm);
drawRightAxis(pc, ycR, eu08WaterTicks);
title(309, 439, 'Flug EU-08, 26.07.2017');
tag(10, 451, '(c)');
yLabel(36, 590, 'DMS [ncps]');
svg.append('text').attr('x', 309).attr('y', 797).attr('text-anchor', 'middle').attr('font-size', 26).text('Zeit [UTC]');
svg.append('text').attr('transform', 'translate(597,594) rotate(-90)').attr('text-anchor', 'middle')
  .style('fill', waterColor).call(s => ratioLabel(s, 26));

// ---------- (d) ----------
const pd = makePanel('d', { left: 697, right: 1151, top: 447, bottom: 740 }, [0, 12], [1, 5]);
const ydR = d3.scaleLinear().domain([0, 50]).range([740, 447]);
dots(pd, as04Total, 3.4, darkGray);
dots(pd, as04Bg, 5.3, bgFill, bgStroke);
line(pd, ydR, as04Water, waterColor, 2.4);
line(pd, pd.y, as04Interp, fitColor, 2.2);
drawAxes(pd, as04TimeTicks, isoTicksFlight, hhmm);
drawRightAxis(pd, ydR, as04WaterTicks);
title(924, 439, 'Flug AS-04, 19.03.2018');
tag(626, 451, '(d)');
yLabel(652, 594, 'Isopren [ncps]');
svg.append('text').attr('x', 924).attr('y', 797).attr('text-anchor', 'middle').attr('font-size', 26).text('Zeit [UTC]');
svg.append('text').attr('transform', 'translate(1206,594) rotate(-90)').attr('text-anchor', 'middle')
  .attr('font-size', 25).style('fill', waterColor).call(s => ratioLabel(s, 25));
const legD = svg.append('g');
legendFlight.forEach((t, i) => {
  const cy = 469 + i * 27;
  if (i === 0) legD.append('circle').attr('cx', 855).attr('cy', cy).attr('r', 3.4).attr('fill', darkGray);
  if (i === 1) legD.append('circle').attr('cx', 855).attr('cy', cy).attr('r', 5.3).attr('fill', bgFill).attr('stroke', bgStroke);
  if (i === 2) legD.append('line').attr('x1', 823).attr('x2', 886).attr('y1', cy).attr('y2', cy).attr('stroke', fitColor).attr('stroke-width', 2.2);
  legD.append('text').attr('x', 892).attr('y', cy + 7).attr('font-size', 22.5).text(t);
});
</script>
</body>
</html>
